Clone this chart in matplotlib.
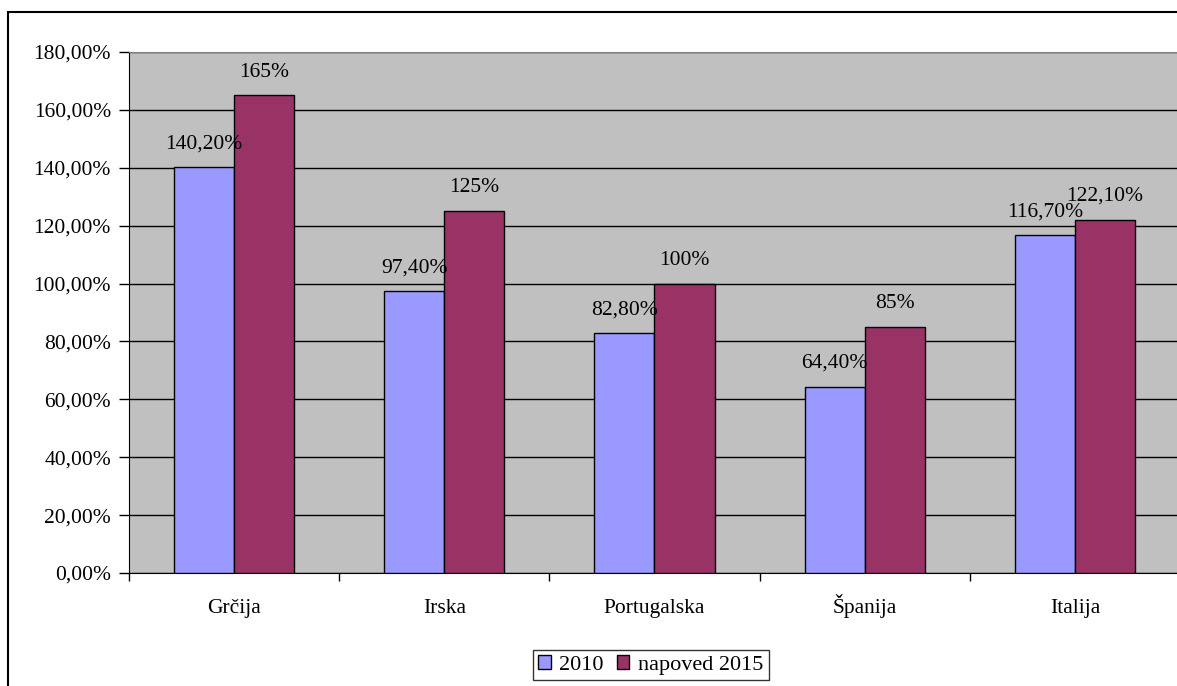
import numpy as np
import matplotlib.pyplot as plt
from matplotlib.patches import Rectangle, Patch
from matplotlib.ticker import MultipleLocator, FuncFormatter

plt.rcParams["font.family"] = ["Liberation Serif", "DejaVu Serif"]

drzave = ["Grčija", "Irska", "Portugalska", "Španija", "Italija"]
dolg_2010 = [140.2, 97.4, 82.8, 64.4, 116.7]
dolg_2015 = [165, 125, 100, 85, 122.1]
oznake_2010 = ["140,20%", "97,40%", "82,80%", "64,40%", "116,70%"]
oznake_2015 = ["165%", "125%", "100%", "85%", "122,10%"]

barva_2010 = "#9999FF"
barva_2015 = "#993366"
fs = 15.5

fig = plt.figure(figsize=(11.77, 6.86), dpi=100)
ax = fig.add_axes([129 / 1177, 1 - 573 / 686, 1051 / 1177, 521 / 686])
ax.set_facecolor("#C0C0C0")

x = np.arange(len(drzave))
w = 60 / 210
b1 = ax.bar(x - w / 2, dolg_2010, w, color=barva_2010, edgecolor="black", linewidth=1, zorder=3)
b2 = ax.bar(x + w / 2, dolg_2015, w, color=barva_2015, edgecolor="black", linewidth=1, zorder=3)

for rect, txt in zip(b1, oznake_2010):
    ax.annotate(txt, (rect.get_x() + rect.get_width() / 2, rect.get_height()),
                xytext=(0, 13.5), textcoords="offset points", ha="center", va="baseline", fontsize=fs)
for rect, txt in zip(b2, oznake_2015):
    ax.annotate(txt, (rect.get_x() + rect.get_width() / 2, rect.get_height()),
                xytext=(0, 13.5), textcoords="offset points", ha="center", va="baseline", fontsize=fs)

ax.set_ylim(0, 180)
ax.set_xlim(-0.5, len(drzave) - 0.5)
ax.yaxis.set_major_locator(MultipleLocator(20))
ax.yaxis.set_major_formatter(FuncFormatter(lambda v, p: f"{v:.2f}%".replace(".", ",")))
ax.grid(axis="y", color="black", linewidth=1, zorder=1)
ax.set_axisbelow(True)

ax.set_xticks(x)
ax.set_xticklabels(drzave, fontsize=fs, va="baseline")
ax.tick_params(axis="x", length=0, pad=29)
ax.set_xticks(np.arange(len(drzave) + 1) - 0.5, minor=True)
ax.tick_params(axis="x", which="minor", length=6, width=1, direction="out", color="black")
ax.tick_params(axis="y", length=7, width=1, direction="out", labelsize=fs, pad=6)

ax.spines["left"].set_color("black")
ax.spines["bottom"].set_color("black")
ax.spines["top"].set_color("#808080")
ax.spines["right"].set_visible(False)

# okvir grafikona
fig.patches.append(Rectangle((8 / 1177, -0.05), 1.1, 1 - 12 / 686 + 0.05, transform=fig.transFigure,
                             fill=False, edgecolor="black", linewidth=1.5))

handles = [Patch(facecolor=barva_2010, edgecolor="black", label="2010"),
           Patch(facecolor=barva_2015, edgecolor="black", label="napoved 2015")]
leg = fig.legend(handles=handles, loc="center", bbox_to_anchor=(651 / 1177, 1 - 665 / 686), ncol=2,
                 fontsize=16, frameon=True, fancybox=False, edgecolor="black", handlelength=0.55,
                 handleheight=0.55, handletextpad=0.4, columnspacing=0.6, borderpad=0.25, borderaxespad=0)
leg.get_frame().set_linewidth(1)

fig.savefig("out.png", dpi=100)
